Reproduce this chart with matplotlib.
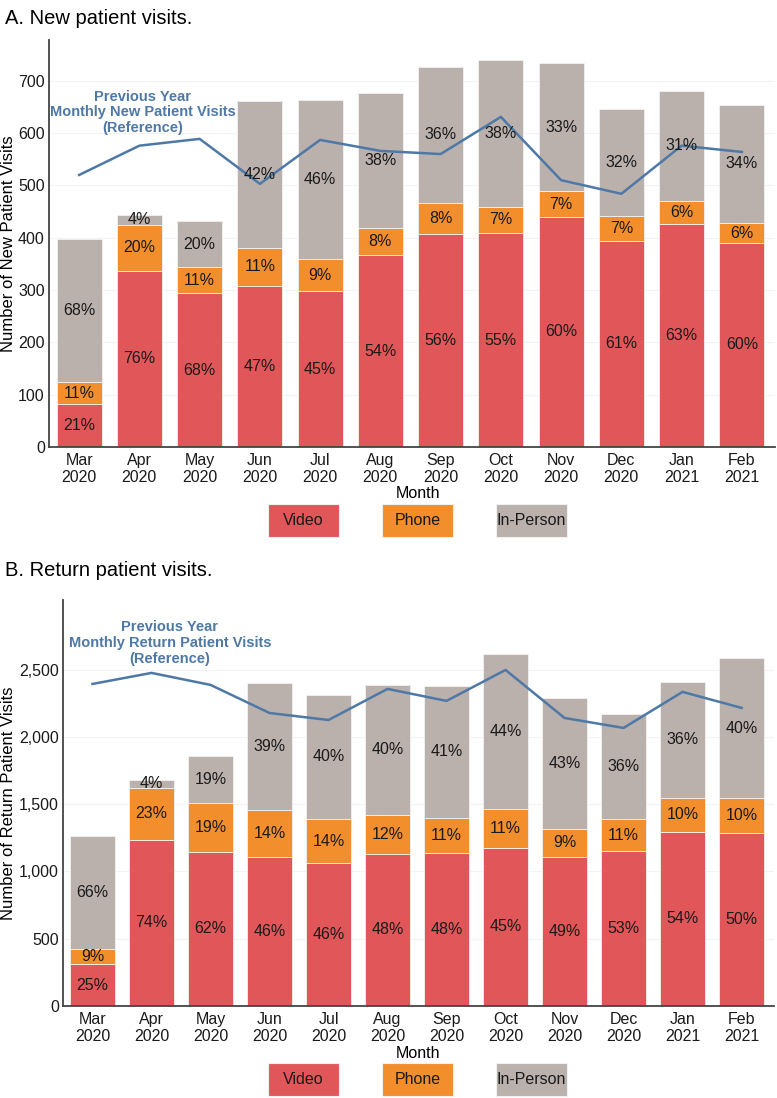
import matplotlib.pyplot as plt
from matplotlib.patches import Rectangle
from matplotlib.ticker import FuncFormatter

plt.rcParams['font.family'] = ['Liberation Sans', 'DejaVu Sans']

# Data
months = ['Mar\n2020', 'Apr\n2020', 'May\n2020', 'Jun\n2020', 'Jul\n2020', 'Aug\n2020',
          'Sep\n2020', 'Oct\n2020', 'Nov\n2020', 'Dec\n2020', 'Jan\n2021', 'Feb\n2021']

# A. new patients
new_video = [82, 337, 294, 308, 298, 367, 407, 409, 440, 394, 426, 390]
new_phone = [42, 87, 50, 73, 61, 52, 60, 50, 49, 48, 44, 38]
new_inperson = [274, 20, 88, 280, 304, 258, 260, 281, 245, 204, 211, 226]
new_prev_year = [520, 576, 589, 503, 587, 566, 560, 631, 510, 484, 576, 564]
new_video_pct = ['21%', '76%', '68%', '47%', '45%', '54%', '56%', '55%', '60%', '61%', '63%', '60%']
new_phone_pct = ['11%', '20%', '11%', '11%', '9%', '8%', '8%', '7%', '7%', '7%', '6%', '6%']
new_inperson_pct = ['68%', '4%', '20%', '42%', '46%', '38%', '36%', '38%', '33%', '32%', '31%', '34%']

# B. return patients
ret_video = [312, 1234, 1145, 1108, 1063, 1130, 1138, 1175, 1108, 1152, 1294, 1286]
ret_phone = [112, 387, 364, 349, 327, 290, 260, 290, 208, 238, 252, 260]
ret_inperson = [840, 59, 350, 944, 922, 967, 981, 1152, 974, 781, 863, 1041]
ret_prev_year = [2394, 2476, 2387, 2178, 2126, 2357, 2268, 2498, 2141, 2067, 2335, 2216]
ret_video_pct = ['25%', '74%', '62%', '46%', '46%', '48%', '48%', '45%', '49%', '53%', '54%', '50%']
ret_phone_pct = ['9%', '23%', '19%', '14%', '14%', '12%', '11%', '11%', '9%', '11%', '10%', '10%']
ret_inperson_pct = ['66%', '4%', '19%', '39%', '40%', '40%', '41%', '44%', '43%', '36%', '36%', '40%']

legend_names = ['Video', 'Phone', 'In-Person']
colors = ['#e15759', '#f28e2b', '#bab0ac']
line_color = '#4e79a7'

W, H = 777, 1098
fig = plt.figure(figsize=(W / 100, H / 100), dpi=100)


def draw_panel(ax, video, phone, inperson, prev, pcts, ylim, yticks, fmt, note, note_xy):
    x = list(range(len(months)))
    bottoms = [0] * len(x)
    for vals, col, labels in zip([video, phone, inperson], colors, pcts):
        ax.bar(x, vals, width=0.75, bottom=bottoms, color=col, edgecolor='#f2f2f2',
               linewidth=0.6, zorder=2)
        for i in x:
            ax.text(i, bottoms[i] + vals[i] / 2, labels[i], ha='center', va='center',
                    fontsize=11.5, color='#1a1a1a', zorder=4)
        bottoms = [b + v for b, v in zip(bottoms, vals)]
    ax.plot(x, prev, color=line_color, linewidth=1.8, zorder=3)
    ax.text(note_xy[0], note_xy[1], note, ha='center', va='center', fontsize=10.5,
            fontweight='bold', color=line_color, linespacing=1.15, zorder=5)

    ax.set_xlim(-0.5, 11.55)
    ax.set_ylim(*ylim)
    ax.set_xticks(x)
    ax.set_xticklabels(months, fontsize=11.5, linespacing=1.2)
    ax.set_yticks(yticks)
    ax.yaxis.set_major_formatter(FuncFormatter(fmt))
    ax.tick_params(axis='both', length=0, labelsize=11.5, labelcolor='#1a1a1a')
    ax.tick_params(axis='x', pad=4)
    ax.tick_params(axis='y', pad=3)
    ax.grid(axis='y', color='#f3f3f3', linewidth=0.8, zorder=0)
    for s in ['top', 'right']:
        ax.spines[s].set_visible(False)
    for s in ['left', 'bottom']:
        ax.spines[s].set_color('#444444')
        ax.spines[s].set_linewidth(1.3)


def draw_legend(y_px):
    # boxes in pixel positions converted to figure fractions
    for name, col, x_px in zip(legend_names, colors, [268, 382, 496]):
        fig.add_artist(Rectangle((x_px / W, 1 - (y_px + 33) / H), 71 / W, 33 / H,
                                 transform=fig.transFigure, facecolor=col,
                                 edgecolor='#f0f0f0', linewidth=0.8))
        fig.text((x_px + 35.5) / W, 1 - (y_px + 16.5) / H, name, ha='center',
                 va='center', fontsize=11.5, color='#1a1a1a')


# Panel A
axA = fig.add_axes([49 / W, 1 - 447 / H, 726 / W, 407 / H])
draw_panel(axA, new_video, new_phone, new_inperson, new_prev_year,
           [new_video_pct, new_phone_pct, new_inperson_pct],
           (0, 778), range(0, 701, 100), lambda v, p: f'{int(v)}',
           'Previous Year\nMonthly New Patient Visits\n(Reference)', (1.06, 640))
fig.text(5 / W, 1 - 18 / H, 'A. New patient visits.', ha='left', va='center', fontsize=14.5)
fig.text(9 / W, 1 - 244 / H, 'Number of New Patient Visits', rotation=90,
         ha='center', va='center', fontsize=12)
fig.text(418 / W, 1 - 493 / H, 'Month', ha='center', va='center', fontsize=11.5)
draw_legend(504)

# Panel B
axB = fig.add_axes([63 / W, 1 - 1006 / H, 711 / W, 406 / H])
draw_panel(axB, ret_video, ret_phone, ret_inperson, ret_prev_year,
           [ret_video_pct, ret_phone_pct, ret_inperson_pct],
           (0, 3018), range(0, 2501, 500), lambda v, p: f'{int(v):,}',
           'Previous Year\nMonthly Return Patient Visits\n(Reference)', (1.31, 2699))
fig.text(5 / W, 1 - 570 / H, 'B. Return patient visits.', ha='left', va='center', fontsize=14.5)
fig.text(9 / W, 1 - 803 / H, 'Number of Return Patient Visits', rotation=90,
         ha='center', va='center', fontsize=12)
fig.text(418 / W, 1 - 1053 / H, 'Month', ha='center', va='center', fontsize=11.5)
draw_legend(1063)

fig.savefig('out.png', dpi=100)
